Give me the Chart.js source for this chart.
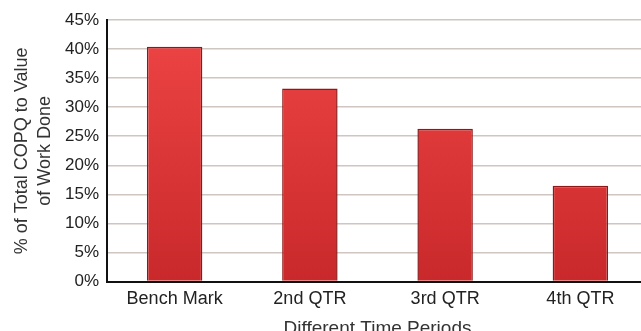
<!DOCTYPE html>
<html>
<head>
<meta charset="utf-8">
<script src="https://cdn.jsdelivr.net/npm/chart.js@4.4.1/dist/chart.umd.min.js"></script>
<style>
    html, body { margin: 0; padding: 0; background: #fff; overflow: hidden; }
    #wrap { position: relative; width: 648px; height: 340px; }
</style>
</head>
<body>
<div id="wrap"><canvas id="copq"></canvas></div>
<script>
// periodi e percentuale COPQ sul valore del lavoro
const periods = ["Bench Mark", "2nd QTR", "3rd QTR", "4th QTR"];
const copqPct = [40.4, 33.2, 26.3, 16.5];
const yTicks = [0, 5, 10, 15, 20, 25, 30, 35, 40, 45];

const yTitle = ["% of Total COPQ to Value", "of Work Done"];
const xTitle = "Different Time Periods";

// sfumatura rossa delle barre, più scura in basso
function barFill(context) {
    const chart = context.chart;
    const area = chart.chartArea;
    if (!area) return "#e23a3a";
    const g = chart.ctx.createLinearGradient(0, area.top, 0, area.bottom);
    g.addColorStop(0, "#ef4545");
    g.addColorStop(1, "#c9292b");
    return g;
}

const ctx = document.getElementById("copq").getContext("2d");
new Chart(ctx, {
    type: "bar",
    data: {
        labels: periods,
        datasets: [
            {
                data: copqPct,
                backgroundColor: barFill,
                borderColor: "#8e1818",
                borderWidth: 1.5,
                barPercentage: 0.41,
                categoryPercentage: 1.0,
            },
        ],
    },
    options: {
        responsive: true,
        maintainAspectRatio: false,
        animation: false,
        layout: { padding: { top: 20, right: 0, bottom: 0, left: 0 } },
        plugins: {
            legend: { display: false },
            tooltip: { enabled: false },
        },
        scales: {
            x: {
                grid: { display: false, drawTicks: false },
                border: { color: "#111", width: 2 },
                ticks: {
                    color: "#222",
                    padding: 7,
                    font: { family: "Liberation Sans, Arial", size: 18 },
                },
                title: {
                    display: true,
                    text: xTitle,
                    color: "#333",
                    padding: { top: 0, bottom: 0 },
                    font: { family: "Liberation Sans, Arial", size: 19 },
                },
            },
            y: {
                min: 0,
                max: 45,
                afterBuildTicks: (scale) => {
                    scale.ticks = yTicks.map((v) => ({ value: v }));
                },
                afterFit: (scale) => {
                    scale.width = 107;
                },
                grid: {
                    color: "#cfc6c1",
                    lineWidth: 1.6,
                    drawTicks: false,
                },
                border: { color: "#111", width: 2 },
                ticks: {
                    color: "#222",
                    padding: 8,
                    callback: (v) => v + "%",
                    font: { family: "Liberation Sans, Arial", size: 17 },
                },
                title: {
                    display: true,
                    text: yTitle,
                    color: "#333",
                    padding: { top: 11, bottom: 4 },
                    font: { family: "Liberation Sans, Arial", size: 18, lineHeight: 1.25 },
                },
            },
        },
    },
});
</script>
</body>
</html>
